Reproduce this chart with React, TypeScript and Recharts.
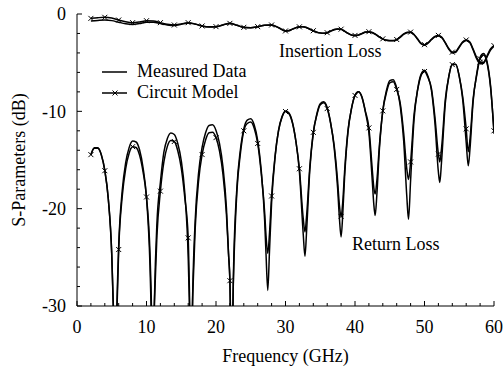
import { LineChart, Line, XAxis, YAxis } from 'recharts'

// return loss: frequency (GHz), measured and model (dB)
const rlFreq = [
  2, 2.5, 3, 3.5, 4, 4.5, 5, 5.25, 5.5,
  5.75, 6, 6.5, 7, 7.5, 8, 8.5, 9, 9.5, 10, 10.5, 10.65, 10.9,
  11.15, 11.5, 12, 12.5, 13, 13.5, 14, 14.5, 15, 15.5, 16, 16.15, 16.4,
  16.65, 17, 17.5, 18, 18.5, 19, 19.5, 20, 20.5, 21, 21.5, 21.8, 22, 22.25,
  22.5, 23, 23.5, 24, 24.5, 25, 25.5, 26, 26.5, 27, 27.2, 27.45,
  27.7, 28, 28.5, 29, 29.5, 30, 30.5, 31, 31.5, 32, 32.55, 32.8,
  33.05, 33.5, 34, 34.5, 35, 35.5, 36, 36.5, 37, 37.5, 37.75, 38,
  38.25, 38.5, 39, 39.5, 40, 40.5, 41, 41.5, 42, 42.5, 42.7, 42.9,
  43.15, 43.5, 44, 44.5, 45, 45.5, 46, 46.5, 47, 47.45, 47.7,
  48, 48.5, 49, 49.5, 50, 50.5, 51, 51.5, 52, 52.2,
  52.45, 53, 53.5, 54, 54.5, 55, 55.5, 56, 56.3,
  56.55, 57, 57.5, 58, 58.5, 59, 59.5, 60,
]
const rlMeasured = [
  -14.45, -13.74, -13.74, -14.45, -16.05, -18.95, -24.6, -30.5, -40,
  -29.8, -23.8, -18.2, -15.3, -13.73, -13.06, -13.15, -13.95, -15.77, -18.9, -25.8, -29.8, -40,
  -29.1, -21.5, -17.3, -14.2, -12.8, -12.23, -12.38, -13.3, -15.05, -18.3, -25.0, -29.1, -40,
  -28.6, -21.3, -16.3, -13.7, -12.2, -11.45, -11.39, -11.96, -13.3, -15.7, -19.9, -24.6, -27.5, -40,
  -27.1, -17.9, -14.0, -11.8, -10.9, -10.76, -11.4, -13.0, -16.0, -21.2, -24.7, -28.4,
  -24.3, -19.4, -14.7, -11.94, -10.54, -9.96, -10.18, -11.14, -13.1, -16.2, -22.6, -24.9,
  -22.1, -16.0, -12.25, -10.3, -9.23, -9.02, -9.62, -11.2, -13.7, -17.9, -20.9, -22.9,
  -20.4, -16.8, -12.06, -9.7, -8.35, -7.98, -8.53, -10.1, -12.2, -17.3, -19.5, -20.7,
  -18.5, -14.0, -9.92, -7.93, -6.85, -6.75, -7.6, -9.38, -13.0, -18.7, -21.1,
  -17.1, -10.8, -7.8, -6.2, -5.77, -6.39, -7.84, -11.2, -16.25, -17.3,
  -15.2, -9.1, -6.4, -5.16, -5.16, -6.4, -8.8, -13.2, -15.6,
  -13.8, -8.95, -6.2, -4.44, -4.06, -4.9, -7.34, -12.3,
]
const rlModel = [
  -14.45, -13.78, -13.8, -14.5, -16.1, -19.0, -24.8, -30.8, -40,
  -30.4, -24.2, -18.8, -15.9, -14.3, -13.63, -13.72, -14.5, -16.2, -18.8, -24.5, -28.0, -36,
  -29.5, -22.8, -18.2, -15.2, -13.6, -13.0, -13.1, -14.05, -15.8, -18.8, -23.0, -27.5, -36,
  -29.0, -22.1, -17.1, -14.44, -12.94, -12.2, -12.14, -12.7, -14.05, -16.45, -20.6, -24.6, -27.4, -36,
  -27.5, -18.3, -14.4, -12.0, -11.25, -11.1, -11.73, -13.3, -16.3, -20.4, -22.8, -24.6,
  -22.5, -18.7, -14.6, -12.0, -10.6, -10.02, -10.24, -11.2, -13.1, -15.9, -21.0, -22.4,
  -20.6, -15.7, -12.16, -10.4, -9.33, -9.12, -9.72, -11.25, -13.5, -17.2, -19.6, -20.8,
  -19.2, -16.2, -11.9, -9.7, -8.37, -8.0, -8.55, -10.0, -11.7, -16.1, -17.8, -18.5,
  -17.1, -13.6, -9.95, -8.15, -7.07, -6.97, -7.75, -9.13, -12.2, -15.9, -17.0,
  -15.2, -10.3, -7.85, -6.34, -5.91, -6.53, -7.66, -10.6, -14.4, -15.2,
  -13.8, -8.74, -6.4, -5.2, -5.2, -6.4, -8.5, -11.8, -14.15,
  -12.8, -8.7, -6.35, -4.6, -4.22, -5.05, -7.5, -12.0,
]

// insertion loss
const ilFreq = [
  2, 3, 4, 5, 6, 7, 8, 9, 10, 11, 12, 13, 14, 15, 16, 17, 18, 19, 20, 21, 22, 23, 24, 25, 26, 27, 28, 29, 30,
  30.5, 31, 31.5, 32, 32.5, 33, 33.5, 34, 34.5, 35, 35.5, 36, 36.5, 37, 37.5, 38, 38.5, 39, 39.5, 40,
  40.5, 41, 41.5, 42, 42.5, 43, 43.5, 44, 44.5, 45, 45.5, 46, 46.5, 47, 47.5, 48, 48.5, 49, 49.5, 50,
  50.5, 51, 51.5, 52, 52.5, 53, 53.5, 54, 54.5, 55, 55.5, 56, 56.5, 57, 57.5, 58, 58.5, 59, 59.5, 60,
]
const ilMeasured = [
  -0.72, -0.66, -0.62, -0.68, -0.85, -1.0, -1.07, -0.98, -0.84, -0.85, -0.99, -1.12, -1.18, -1.06, -0.92,
  -1.04, -1.24, -1.33, -1.31, -1.13, -0.97, -1.16, -1.38, -1.41, -1.31, -1.16, -1.14, -1.41, -1.76,
  -1.72, -1.56, -1.41, -1.33, -1.31, -1.39, -1.57, -1.74, -1.88, -1.96, -1.99, -1.94, -1.77, -1.62, -1.55, -1.58, -1.77, -2.0, -2.17, -2.22,
  -2.17, -2.02, -1.88, -1.84, -1.92, -2.12, -2.38, -2.58, -2.71, -2.76, -2.76, -2.66, -2.4, -2.1, -1.92, -1.9, -2.14, -2.6, -3.05, -3.2,
  -3.0, -2.65, -2.35, -2.25, -2.45, -3.0, -3.62, -4.0, -3.93, -3.42, -2.92, -2.73, -2.92, -3.7, -4.6, -5.1, -5.05, -4.4, -3.7, -3.3,
]
const ilModel = [
  -0.45, -0.38, -0.34, -0.42, -0.62, -0.8, -0.89, -0.82, -0.69, -0.72, -0.89, -1.05, -1.13, -1.02, -0.89,
  -1.02, -1.23, -1.32, -1.3, -1.12, -0.96, -1.15, -1.37, -1.4, -1.3, -1.15, -1.13, -1.4, -1.74,
  -1.7, -1.55, -1.4, -1.32, -1.3, -1.38, -1.55, -1.72, -1.86, -1.94, -1.97, -1.92, -1.75, -1.6, -1.53, -1.56, -1.75, -1.98, -2.15, -2.2,
  -2.15, -2.0, -1.86, -1.82, -1.9, -2.1, -2.35, -2.55, -2.68, -2.72, -2.72, -2.62, -2.35, -2.05, -1.87, -1.86, -2.1, -2.55, -3.0, -3.15,
  -2.95, -2.6, -2.3, -2.2, -2.4, -2.95, -3.55, -3.92, -3.85, -3.35, -2.85, -2.67, -2.85, -3.6, -4.45, -4.95, -4.95, -4.3, -3.6, -3.25,
]

const xTicks = [0, 2, 4, 6, 8, 10, 12, 14, 16, 18, 20, 22, 24, 26, 28, 30, 32, 34, 36, 38, 40, 42, 44, 46, 48, 50, 52, 54, 56, 58, 60]
const yTicks = [-30, -28, -26, -24, -22, -20, -18, -16, -14, -12, -10, -8, -6, -4, -2, 0]

const rlData = rlFreq.map((f, i) => ({ f, measured: rlMeasured[i], model: rlModel[i] }))
const ilData = ilFreq.map((f, i) => ({ f, measured: ilMeasured[i], model: ilModel[i] }))

const FONT = '"Liberation Serif", "Times New Roman", serif'
const isMajor = (v: number) => v % 10 === 0

// x marker only every 2 GHz
const Cross = (props: any) => {
  const { cx, cy, payload, index } = props
  if (cx == null || cy == null || payload.f % 2 !== 0) return <g key={`n${index}`} />
  return (
    <g key={`x${index}`}>
      <line x1={cx - 2.5} y1={cy - 2.5} x2={cx + 2.5} y2={cy + 2.5} stroke="#000" />
      <line x1={cx - 2.5} y1={cy + 2.5} x2={cx + 2.5} y2={cy - 2.5} stroke="#000" />
    </g>
  )
}

const BottomTick = ({ x, y, payload }: any) => (
  <g>
    <line x1={x} x2={x} y1={y} y2={y - (isMajor(payload.value) ? 5 : 3)} stroke="#000" />
    {isMajor(payload.value) && (
      <text x={x} y={y + 27} textAnchor="middle" fontFamily={FONT} fontSize={18} fill="#000">
        {payload.value}
      </text>
    )}
  </g>
)
const TopTick = ({ x, y, payload }: any) => (
  <line x1={x} x2={x} y1={y} y2={y + (isMajor(payload.value) ? 5 : 3)} stroke="#000" />
)
const LeftTick = ({ x, y, payload }: any) => (
  <g>
    <line x1={x} x2={x + (isMajor(payload.value) ? 5 : 3)} y1={y} y2={y} stroke="#000" />
    {isMajor(payload.value) && (
      <text x={x - 11} y={y + 6.3} textAnchor="end" fontFamily={FONT} fontSize={18} fill="#000">
        {payload.value}
      </text>
    )}
  </g>
)
const RightTick = ({ x, y, payload }: any) => (
  <line x1={x} x2={x - (isMajor(payload.value) ? 5 : 3)} y1={y} y2={y} stroke="#000" />
)

export default function App() {
  const txt = { fontFamily: FONT, fontSize: 18, fill: '#000' }
  return (
    <div style={{ position: 'absolute', left: 0, top: 0, width: 503, height: 369, background: '#fff' }}>
      <LineChart width={503} height={369} margin={{ top: 14, right: 9, bottom: 0, left: 0 }}>
        <XAxis xAxisId="b" type="number" dataKey="f" domain={[0, 60]} ticks={xTicks} interval={0}
          allowDataOverflow height={63} tickSize={0} tickMargin={0} tickLine={false}
          axisLine={{ stroke: '#000' }} tick={BottomTick} />
        <XAxis xAxisId="t" orientation="top" type="number" dataKey="f" domain={[0, 60]} ticks={xTicks}
          interval={0} allowDataOverflow height={0} tickSize={0} tickMargin={0} tickLine={false}
          axisLine={{ stroke: '#000' }} tick={TopTick} />
        <YAxis yAxisId="l" type="number" domain={[-30, 0]} ticks={yTicks} interval={0} allowDataOverflow
          width={77} tickSize={0} tickMargin={0} tickLine={false} axisLine={{ stroke: '#000' }} tick={LeftTick} />
        <YAxis yAxisId="r" orientation="right" type="number" domain={[-30, 0]} ticks={yTicks} interval={0}
          allowDataOverflow width={0} tickSize={0} tickMargin={0} tickLine={false}
          axisLine={{ stroke: '#000' }} tick={RightTick} />

        <Line data={ilData} xAxisId="b" yAxisId="l" dataKey="measured" type="monotone" stroke="#000"
          strokeWidth={1.5} dot={false} isAnimationActive={false} />
        <Line data={ilData} xAxisId="t" yAxisId="r" dataKey="model" type="monotone" stroke="#000"
          strokeWidth={1.5} dot={Cross} isAnimationActive={false} />
        <Line data={rlData} xAxisId="b" yAxisId="l" dataKey="measured" type="monotone" stroke="#000"
          strokeWidth={1.5} dot={false} isAnimationActive={false} />
        <Line data={rlData} xAxisId="t" yAxisId="r" dataKey="model" type="monotone" stroke="#000"
          strokeWidth={1.5} dot={Cross} isAnimationActive={false} />
      </LineChart>

      <svg width={503} height={369} style={{ position: 'absolute', left: 0, top: 0, pointerEvents: 'none' }}>
        <line x1={102} x2={127} y1={72} y2={72} stroke="#000" strokeWidth={1.5} />
        <text x={137} y={77} {...txt}>Measured Data</text>
        <line x1={102} x2={127} y1={93} y2={93} stroke="#000" strokeWidth={1.5} />
        <line x1={112.5} x2={117.5} y1={90.5} y2={95.5} stroke="#000" />
        <line x1={112.5} x2={117.5} y1={95.5} y2={90.5} stroke="#000" />
        <text x={137} y={98} {...txt}>Circuit Model</text>
        <text x={279} y={57} {...txt}>Insertion Loss</text>
        <text x={352} y={250} {...txt}>Return Loss</text>
        <text x={285.5} y={362} textAnchor="middle" {...txt}>Frequency (GHz)</text>
        <text x={25} y={160} textAnchor="middle" transform="rotate(-90 25 160)" {...txt}>S-Parameters (dB)</text>
      </svg>
    </div>
  )
}
